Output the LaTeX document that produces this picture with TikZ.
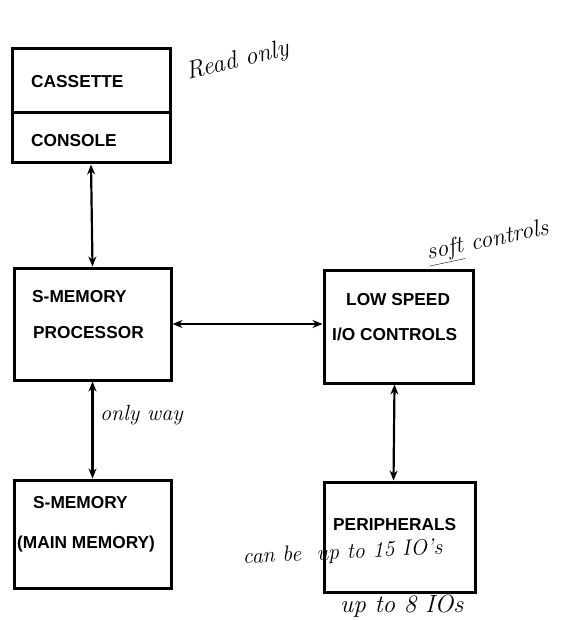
\documentclass[tikz,border=0pt]{standalone}
\usepackage{fontspec}
\setsansfont{Liberation Sans}
\usepackage{tikz}
\usetikzlibrary{positioning,arrows.meta}

\begin{document}
\begin{tikzpicture}[x=1pt,y=-1pt,
        blk/.style={rectangle, draw=black, line width=3pt, inner sep=0pt},
        lbl/.style={anchor=base west, inner sep=0pt,
                    font=\sffamily\bfseries\fontsize{17.3}{20}\selectfont},
        hand/.style={anchor=base west, inner sep=0pt,
                     font=\itshape\fontsize{22}{24}\selectfont},
        link/.style={{Stealth[length=10pt,width=8pt]}-{Stealth[length=10pt,width=8pt]},
                     line width=2.2pt}
      ]
        \useasboundingbox (0,0) rectangle (568,620);
        % boxes
        \node[blk, minimum width=158pt, minimum height=64pt] (cas) at (91,81) {};
        \node[blk, minimum width=158pt, minimum height=50pt] (con) at (91,138) {};
        \node[blk, minimum width=157pt, minimum height=112pt] (proc) at (92.5,324) {};
        \node[blk, minimum width=149pt, minimum height=113pt] (lowio) at (398.5,326.5) {};
        \node[blk, minimum width=157pt, minimum height=108pt] (mmem) at (92.5,534) {};
        \node[blk, minimum width=151pt, minimum height=110pt] (peri) at (399.5,537) {};
        % box texts
        \node[lbl] (tcas) at (31,88) {CASSETTE};
        \node[lbl] (tcon) at (31,147) {CONSOLE};
        \node[lbl] (tproc1) at (32,302) {S-MEMORY};
        \node[lbl] (tproc2) at (33,338) {PROCESSOR};
        \node[lbl] (tlow1) at (346,305) {LOW SPEED};
        \node[lbl] (tlow2) at (332,340) {I/O CONTROLS};
        \node[lbl] (tmem1) at (33,508) {S-MEMORY};
        \node[lbl] (tmem2) at (17,548) {(MAIN MEMORY)};
        \node[lbl] (tperi) at (333,530) {PERIPHERALS};
        % connectors
        \draw[link] (con.south) -- (proc.north);
        \draw[link] (proc.east) -- (proc.east -| lowio.west);
        \draw[link] (proc.south) -- (mmem.north);
        \draw[link] ([xshift=-4pt]lowio.south) -- ([xshift=-5pt]lowio.south |- peri.north);
        % handwritten notes
        \node[hand, font=\itshape\fontsize{25}{26}\selectfont, rotate=14] (nread) at (188,80) {Read only};
        \node[hand, font=\itshape\fontsize{24}{26}\selectfont, rotate=12] (nsoft) at (428,260) {\underline{soft} controls};
        \node[hand] (nway) at (100,420) {only way};
        \node[hand, rotate=3] (ncan) at (243,564) {can be \ up to 15 IO's};
        \node[hand, font=\itshape\fontsize{25}{26}\selectfont] (nupto) at (340,612) {up to 8 IOs};
\end{tikzpicture}
\end{document}
